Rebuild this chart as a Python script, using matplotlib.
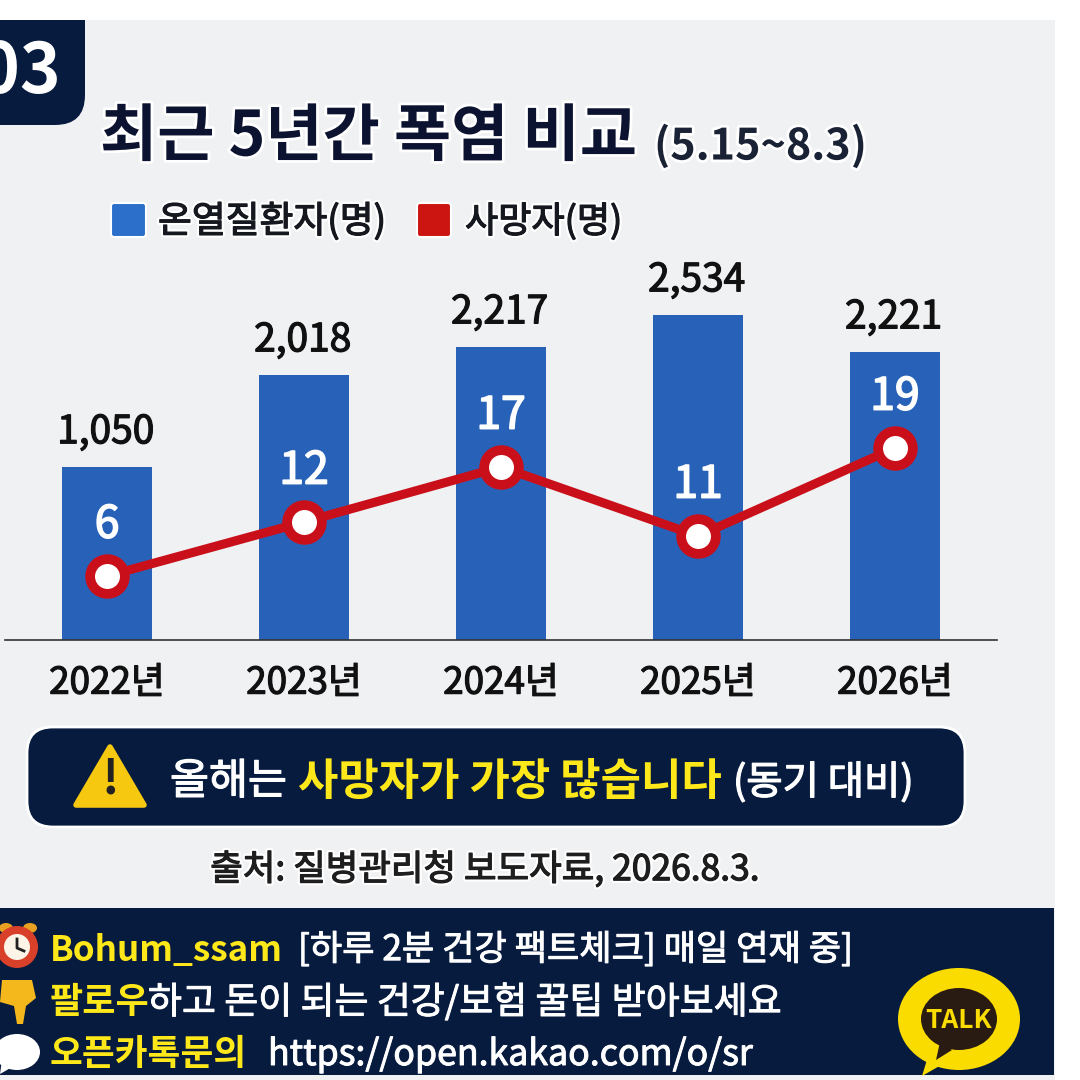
import matplotlib
matplotlib.use('Agg')
import matplotlib.pyplot as plt
import matplotlib.patheffects as pe
from matplotlib.patches import FancyBboxPatch, Rectangle, Ellipse, Polygon, Circle

plt.rcParams['font.family'] = ['Noto Sans CJK KR', 'DejaVu Sans']

# Data
years = ['2022년', '2023년', '2024년', '2025년', '2026년']
patient_labels = ['1,050', '2,018', '2,217', '2,534', '2,221']
death_labels = ['6', '12', '17', '11', '19']
# bars and line in the picture are not strictly to scale, so these are the drawn levels
patient_heights = [1349, 2066, 2284, 2534, 2245]
death_levels = [6.4, 11.8, 17.3, 10.4, 19.2]

NAVY = '#071b3e'
BLUE = '#2762b8'
RED = '#c9101a'
YELLOW = '#ffe81a'
GREY_BG = '#f0f1f3'

W = 1080
fig = plt.figure(figsize=(10.8, 10.8), dpi=100, facecolor='white')

# Full figure axes in pixel coordinates for the card decoration
bg = fig.add_axes([0, 0, 1, 1], zorder=0)
bg.set_xlim(0, W)
bg.set_ylim(W, 0)
bg.axis('off')

halo = [pe.withStroke(linewidth=4, foreground='white')]


# regular weight thickened a little, the picture's text sits between regular and bold
def semi(color, width=0.9):
    return [pe.withStroke(linewidth=width, foreground=color)]


def semi_halo(color):
    return [pe.withStroke(linewidth=4, foreground='white'), pe.withStroke(linewidth=0.9, foreground=color)]


def rounded(x0, y0, x1, y1, r, **kw):
    p = FancyBboxPatch((x0 + r, y0 + r), x1 - x0 - 2 * r, y1 - y0 - 2 * r,
                       boxstyle='round,pad=%d,rounding_size=%d' % (r, r), **kw)
    bg.add_patch(p)
    return p


bg.add_patch(Rectangle((0, 20), 1055, 1060, fc=GREY_BG, ec='none'))

# Number badge
rounded(-60, -20, 85, 125, 30, fc=NAVY, ec='none')
bg.add_patch(Rectangle((-10, 20), 95, 60, fc=NAVY, ec='none'))
bg.add_patch(Rectangle((0, 0), 1080, 20, fc='white', ec='none'))
bg.text(61, 73, '03', color='white', fontsize=50, fontweight='bold', ha='right', va='center')

# Title
bg.text(100, 137, '최근 5년간 폭염 비교', color='#0c1330', fontsize=44.8, fontweight='bold',
        va='center', path_effects=halo)
bg.text(654, 146, '(5.15~8.3)', color='#1a2236', fontsize=31, fontweight='bold',
        va='center', path_effects=halo)

# Legend
rounded(111, 203, 146, 237, 3, fc='#2b6fcb', ec='white', lw=1.5)
bg.text(158, 222, '온열질환자(명)', color='#16181f', fontsize=26.5,
        va='center', path_effects=semi_halo('#16181f'))
rounded(417, 203, 451, 237, 3, fc='#cc1410', ec='white', lw=1.5)
bg.text(465, 222, '사망자(명)', color='#16181f', fontsize=26,
        va='center', path_effects=semi_halo('#16181f'))

# Callout box
rounded(27, 727, 965, 827, 26, fc=NAVY, ec='white', lw=2)
bg.add_patch(Polygon([(110, 747), (144, 805), (76, 805)], closed=True, fc='#f6c80f',
                     ec='#f6c80f', lw=4, joinstyle='round'))
bg.text(110, 779, '!', color='#222222', fontsize=34, fontweight='bold', ha='center', va='center')
bg.text(170, 782, '올해는', color='white', fontsize=30.5, va='center', path_effects=semi('white'))
bg.text(298, 782, '사망자가 가장 많습니다', color=YELLOW, fontsize=31.6, fontweight='bold', va='center')
bg.text(733, 783, '(동기 대비)', color='white', fontsize=28.4, va='center', path_effects=semi('white'))

# Source
bg.text(485, 870, '출처: 질병관리청 보도자료, 2026.8.3.', color='#1e1e1e', fontsize=25.5,
        ha='center', va='center', path_effects=semi_halo('#1e1e1e'))

# Bottom banner
bg.add_patch(Rectangle((0, 908), 1054, 167, fc=NAVY, ec='none'))
bg.text(50, 950, 'Bohum_ssam', color=YELLOW, fontsize=25.2, fontweight='bold', va='center')
bg.text(298, 950, '[하루 2분 건강 팩트체크] 매일 연재 중]', color='white', fontsize=25.3,
        va='center', path_effects=semi('white', 0.7))
bg.text(50, 1003, '팔로우', color=YELLOW, fontsize=26, fontweight='bold', va='center')
bg.text(148, 1003, '하고 돈이 되는 건강/보험 꿀팁 받아보세요', color='white', fontsize=26.6,
        va='center', path_effects=semi('white', 0.7))
bg.text(50, 1054, '오픈카톡문의', color=YELLOW, fontsize=25.7, fontweight='bold', va='center')
bg.text(268, 1055, 'https://open.kakao.com/o/sr', color='white', fontsize=25.7,
        va='center', path_effects=semi('white', 0.7))

# Alarm clock, hand and speech bubble icons
bg.add_patch(Ellipse((6, 928), 14, 10, fc='#e8a020', ec='none'))
bg.add_patch(Ellipse((30, 928), 14, 10, fc='#e8a020', ec='none'))
bg.add_patch(Circle((17, 947), 21, fc='#d8402a', ec='none'))
bg.add_patch(Circle((17, 947), 13, fc='#fdf4e8', ec='none'))
bg.plot([17, 17, 24], [939, 948, 951], color='#222222', lw=2)
bg.add_patch(Polygon([(2, 980), (32, 980), (36, 998), (26, 1006), (23, 1024), (17, 1024),
                      (14, 1006), (0, 1002)], closed=True, fc='#f5b81c', ec='none'))
bg.add_patch(Ellipse((17, 1052), 46, 36, fc='white', ec='none'))
bg.add_patch(Polygon([(2, 1060), (14, 1066), (0, 1074)], closed=True, fc='white', ec='none'))

# Kakao talk badge
bg.add_patch(Ellipse((959, 1019), 122, 102, fc='#fbdc00', ec='none'))
bg.add_patch(Polygon([(930, 1050), (950, 1060), (922, 1076)], closed=True, fc='#fbdc00', ec='none'))
bg.add_patch(Ellipse((959, 1019), 76, 62, fc='#2a1b12', ec='none'))
bg.add_patch(Polygon([(940, 1042), (952, 1050), (936, 1060)], closed=True, fc='#2a1b12', ec='none'))
bg.text(959, 1021, 'TALK', color='#fbdc00', fontsize=19, fontweight='bold', ha='center', va='center')

# Chart axes, 197 px per category, baseline at y=640 px
left, right, top, base = 5, 997, 260, 640
ax = fig.add_axes([left / W, 1 - base / W, (right - left) / W, (base - top) / W], zorder=1)
ax.patch.set_alpha(0)
x = list(range(len(years)))
ax.bar(x, patient_heights, width=0.457, color=BLUE)
ax.set_xlim(-0.518, 4.518)
ax.set_ylim(0, 2963)
ax.set_yticks([])
ax.set_xticks(x)
ax.set_xticklabels(years, fontsize=26.5, color='#111111', path_effects=semi('#111111'))
ax.tick_params(axis='x', length=0, pad=17)
for s in ['top', 'left', 'right']:
    ax.spines[s].set_visible(False)
ax.spines['bottom'].set_color('#333333')
ax.spines['bottom'].set_linewidth(1.2)

for i, lab in enumerate(patient_labels):
    ax.annotate(lab, (x[i], patient_heights[i]), xytext=(-1, 25), textcoords='offset points',
                ha='center', va='center', fontsize=28, color='#111111', path_effects=semi('#111111'))

ax2 = ax.twinx()
ax2.set_ylim(0, 38)
ax2.set_yticks([])
for s in ax2.spines.values():
    s.set_visible(False)
ax2.plot(x, death_levels, color=RED, lw=6.5, marker='o', ms=25, mfc='white', mec=RED, mew=7)
for i, lab in enumerate(death_labels):
    ax2.annotate(lab, (x[i], death_levels[i]), xytext=(0, 37), textcoords='offset points',
                 ha='center', va='center', fontsize=32, color='white', path_effects=semi('white', 1.2))

fig.savefig('out.png', dpi=100)
